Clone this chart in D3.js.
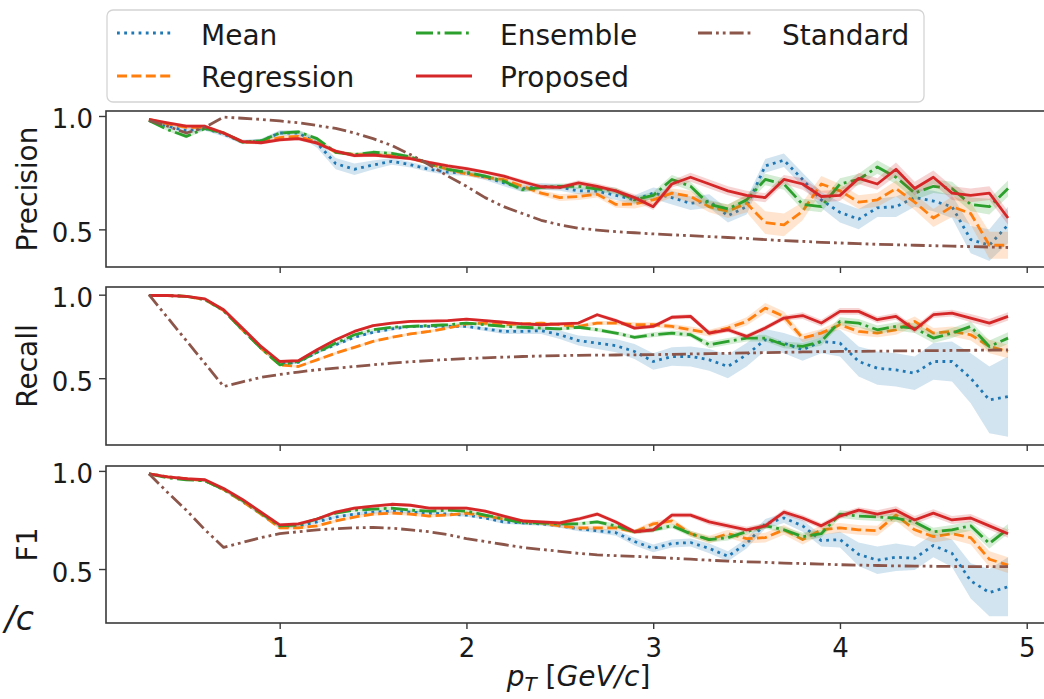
<!DOCTYPE html>
<html><head><meta charset="utf-8">
<script src="https://cdn.jsdelivr.net/npm/d3@7"></script>
<style>body{margin:0;background:#fff;} svg{display:block;font-family:"DejaVu Sans";}</style>
</head><body><svg id="chart" width="1044" height="699"></svg>
<script>
// ---------- data ----------
const pT = [0.3,0.4,0.5,0.6,0.7,0.8,0.9,
  1.0,1.1,1.2,1.3,1.4,1.5,1.6,1.7,1.8,1.9,
  2.0,2.1,2.2,2.3,2.4,2.5,2.6,2.7,2.8,2.9,
  3.0,3.1,3.2,3.3,3.4,3.5,3.6,3.7,3.8,3.9,
  4.0,4.1,4.2,4.3,4.4,4.5,4.6,4.7,4.8,4.9];

const seriesNames = ["Mean","Regression","Ensemble","Proposed","Standard"];
const xTicks = [1,2,3,4,5];
const yTicks = [0.5,1.0];

// Precision
const precisionMean = [0.98,0.955,0.935,0.945,0.92,0.885,0.89,
  0.925,0.925,0.88,0.79,0.765,0.784,0.8,0.785,0.765,0.752,
  0.748,0.73,0.705,0.68,0.69,0.685,0.67,0.668,0.65,0.63,
  0.66,0.64,0.615,0.625,0.56,0.6,0.78,0.805,0.72,0.63,
  0.575,0.545,0.595,0.6,0.64,0.625,0.6,0.455,0.43,0.52];
const precisionRegression = [0.985,0.965,0.95,0.95,0.925,0.885,0.885,
  0.905,0.91,0.885,0.84,0.83,0.83,0.825,0.815,0.79,0.765,
  0.745,0.73,0.72,0.69,0.66,0.64,0.645,0.655,0.61,0.612,
  0.63,0.66,0.645,0.6,0.58,0.615,0.53,0.52,0.58,0.7,
  0.67,0.62,0.63,0.68,0.62,0.55,0.6,0.57,0.43,0.43];
const precisionEnsemble = [0.98,0.94,0.91,0.945,0.925,0.885,0.89,
  0.925,0.93,0.9,0.84,0.83,0.84,0.835,0.82,0.79,0.765,
  0.752,0.735,0.712,0.675,0.685,0.69,0.69,0.678,0.67,0.63,
  0.65,0.72,0.69,0.61,0.59,0.63,0.72,0.7,0.61,0.6,
  0.7,0.72,0.775,0.73,0.66,0.69,0.68,0.61,0.6,0.68];
const precisionProposed = [0.985,0.97,0.955,0.955,0.925,0.887,0.882,
  0.895,0.9,0.88,0.845,0.825,0.828,0.82,0.812,0.795,0.78,
  0.768,0.752,0.735,0.71,0.688,0.685,0.705,0.69,0.67,0.64,
  0.6,0.7,0.73,0.7,0.67,0.65,0.64,0.72,0.7,0.645,
  0.65,0.725,0.7,0.765,0.68,0.73,0.66,0.65,0.66,0.55];
const precisionStandard = [0.98,0.955,0.925,0.95,0.995,0.99,0.985,
  0.978,0.97,0.958,0.945,0.925,0.9,0.87,0.83,0.785,0.735,
  0.69,0.64,0.6,0.57,0.54,0.52,0.505,0.497,0.49,0.485,
  0.48,0.476,0.472,0.468,0.464,0.46,0.455,0.45,0.447,0.443,
  0.44,0.437,0.434,0.432,0.43,0.428,0.426,0.424,0.422,0.42];

const precisionMeanStd = [0.008,0.01,0.012,0.01,0.01,0.01,0.01,
  0.012,0.012,0.02,0.025,0.025,0.02,0.015,0.012,0.012,0.012,
  0.012,0.012,0.015,0.015,0.015,0.015,0.015,0.02,0.02,0.02,
  0.025,0.03,0.03,0.03,0.03,0.035,0.03,0.03,0.03,0.035,
  0.045,0.045,0.04,0.045,0.04,0.045,0.05,0.06,0.07,0.08];
const precisionRegressionStd = [0.006,0.006,0.008,0.008,0.008,0.008,0.008,
  0.008,0.008,0.008,0.008,0.008,0.008,0.008,0.008,0.008,0.01,
  0.01,0.01,0.01,0.012,0.012,0.015,0.015,0.015,0.015,0.02,
  0.02,0.02,0.025,0.025,0.03,0.04,0.05,0.05,0.04,0.035,
  0.03,0.03,0.03,0.035,0.035,0.04,0.045,0.05,0.06,0.06];
const precisionEnsembleStd = [0.006,0.006,0.008,0.008,0.008,0.008,0.008,
  0.008,0.008,0.008,0.008,0.008,0.008,0.008,0.008,0.008,0.008,
  0.008,0.008,0.01,0.01,0.01,0.012,0.012,0.012,0.015,0.015,
  0.015,0.02,0.02,0.02,0.02,0.02,0.025,0.025,0.025,0.025,
  0.025,0.025,0.03,0.03,0.03,0.03,0.03,0.03,0.035,0.035];
const precisionProposedStd = [0.006,0.006,0.008,0.008,0.008,0.008,0.008,
  0.008,0.008,0.008,0.008,0.008,0.008,0.008,0.008,0.008,0.008,
  0.008,0.008,0.008,0.01,0.01,0.01,0.012,0.012,0.012,0.015,
  0.015,0.015,0.02,0.02,0.02,0.02,0.02,0.02,0.025,0.025,
  0.025,0.025,0.025,0.03,0.03,0.03,0.03,0.03,0.03,0.03];

// Recall
const recallMean = [0.995,0.995,0.99,0.97,0.905,0.79,0.68,
  0.585,0.595,0.655,0.7,0.745,0.775,0.795,0.81,0.81,0.81,
  0.81,0.795,0.78,0.78,0.785,0.76,0.725,0.71,0.695,0.66,
  0.6,0.63,0.63,0.61,0.57,0.64,0.73,0.71,0.67,0.72,
  0.71,0.6,0.56,0.55,0.53,0.6,0.6,0.5,0.37,0.39];
const recallRegression = [0.995,0.995,0.99,0.97,0.905,0.79,0.68,
  0.58,0.57,0.61,0.65,0.685,0.72,0.745,0.765,0.78,0.8,
  0.825,0.83,0.82,0.825,0.83,0.82,0.81,0.83,0.83,0.82,
  0.82,0.81,0.79,0.77,0.8,0.84,0.92,0.87,0.74,0.77,
  0.82,0.78,0.77,0.79,0.84,0.77,0.78,0.76,0.69,0.66];
const recallEnsemble = [0.995,0.995,0.99,0.972,0.905,0.79,0.68,
  0.58,0.6,0.655,0.71,0.76,0.79,0.805,0.81,0.815,0.82,
  0.83,0.82,0.81,0.805,0.8,0.795,0.805,0.79,0.77,0.745,
  0.76,0.77,0.76,0.7,0.72,0.74,0.74,0.7,0.69,0.72,
  0.84,0.83,0.79,0.81,0.8,0.74,0.77,0.81,0.69,0.74];
const recallProposed = [0.995,0.995,0.99,0.975,0.91,0.8,0.69,
  0.6,0.605,0.67,0.73,0.78,0.815,0.83,0.84,0.842,0.845,
  0.854,0.845,0.835,0.825,0.82,0.825,0.83,0.88,0.845,0.8,
  0.81,0.865,0.87,0.77,0.79,0.75,0.8,0.86,0.875,0.83,
  0.9,0.9,0.85,0.87,0.79,0.88,0.89,0.86,0.83,0.87];
const recallStandard = [1.0,0.862,0.725,0.588,0.45,0.478,0.505,
  0.522,0.537,0.55,0.56,0.57,0.58,0.59,0.598,0.605,0.612,
  0.617,0.622,0.626,0.63,0.633,0.635,0.637,0.638,0.639,0.64,
  0.641,0.643,0.645,0.647,0.649,0.651,0.653,0.655,0.657,0.659,
  0.66,0.661,0.662,0.663,0.664,0.665,0.666,0.667,0.668,0.669];

const recallMeanStd = [0.004,0.004,0.005,0.006,0.008,0.008,0.008,
  0.008,0.008,0.008,0.008,0.008,0.008,0.01,0.01,0.01,0.01,
  0.01,0.012,0.015,0.015,0.02,0.025,0.03,0.035,0.04,0.045,
  0.05,0.055,0.06,0.065,0.07,0.07,0.065,0.06,0.065,0.07,
  0.08,0.09,0.1,0.1,0.1,0.11,0.12,0.15,0.2,0.24];
const recallRegressionStd = [0.004,0.004,0.005,0.006,0.008,0.008,0.008,
  0.008,0.008,0.008,0.008,0.008,0.008,0.008,0.008,0.008,0.008,
  0.008,0.008,0.01,0.01,0.01,0.01,0.012,0.012,0.012,0.015,
  0.015,0.015,0.02,0.02,0.02,0.025,0.03,0.03,0.025,0.025,
  0.025,0.025,0.025,0.03,0.03,0.03,0.03,0.035,0.04,0.04];
const recallEnsembleStd = [0.004,0.004,0.005,0.006,0.008,0.008,0.008,
  0.008,0.008,0.008,0.008,0.008,0.008,0.008,0.008,0.008,0.008,
  0.008,0.008,0.008,0.01,0.01,0.01,0.01,0.012,0.012,0.012,
  0.015,0.015,0.015,0.02,0.02,0.02,0.02,0.02,0.02,0.025,
  0.025,0.025,0.025,0.025,0.03,0.03,0.03,0.03,0.035,0.035];
const recallProposedStd = [0.004,0.004,0.005,0.006,0.008,0.008,0.008,
  0.008,0.008,0.008,0.008,0.008,0.008,0.008,0.008,0.008,0.008,
  0.008,0.008,0.008,0.008,0.01,0.01,0.01,0.01,0.012,0.012,
  0.012,0.012,0.015,0.015,0.015,0.015,0.015,0.015,0.02,0.02,
  0.02,0.02,0.02,0.02,0.02,0.02,0.02,0.025,0.025,0.025];

// F1
const f1Mean = [0.985,0.97,0.96,0.95,0.905,0.845,0.78,
  0.715,0.72,0.74,0.765,0.78,0.79,0.795,0.79,0.785,0.78,
  0.775,0.76,0.74,0.735,0.73,0.72,0.705,0.695,0.685,0.64,
  0.605,0.63,0.635,0.605,0.565,0.63,0.73,0.76,0.72,0.645,
  0.65,0.575,0.545,0.56,0.555,0.62,0.58,0.44,0.38,0.41];
const f1Regression = [0.985,0.97,0.96,0.95,0.905,0.845,0.78,
  0.71,0.71,0.72,0.745,0.765,0.78,0.785,0.78,0.77,0.775,
  0.785,0.77,0.755,0.745,0.735,0.72,0.71,0.71,0.71,0.69,
  0.73,0.745,0.68,0.65,0.68,0.655,0.66,0.7,0.65,0.7,
  0.71,0.7,0.695,0.775,0.7,0.665,0.68,0.66,0.55,0.52];
const f1Ensemble = [0.985,0.965,0.955,0.95,0.905,0.85,0.785,
  0.72,0.725,0.755,0.785,0.8,0.805,0.81,0.8,0.795,0.8,
  0.795,0.775,0.755,0.735,0.735,0.73,0.73,0.74,0.72,0.69,
  0.7,0.72,0.68,0.65,0.66,0.69,0.72,0.7,0.665,0.68,
  0.78,0.77,0.765,0.76,0.74,0.69,0.7,0.72,0.63,0.705];
const f1Proposed = [0.985,0.97,0.96,0.955,0.91,0.855,0.79,
  0.725,0.73,0.755,0.79,0.81,0.82,0.83,0.825,0.81,0.81,
  0.81,0.795,0.77,0.745,0.74,0.735,0.755,0.78,0.74,0.69,
  0.7,0.775,0.775,0.74,0.72,0.7,0.72,0.79,0.76,0.72,
  0.77,0.8,0.78,0.8,0.75,0.785,0.75,0.76,0.72,0.68];
const f1Standard = [0.985,0.89,0.8,0.7,0.61,0.635,0.66,
  0.68,0.69,0.7,0.705,0.71,0.712,0.708,0.7,0.69,0.675,
  0.655,0.64,0.625,0.61,0.6,0.59,0.58,0.572,0.568,0.565,
  0.56,0.555,0.55,0.545,0.54,0.537,0.534,0.53,0.528,0.525,
  0.522,0.52,0.518,0.516,0.515,0.514,0.513,0.512,0.512,0.512];

const f1MeanStd = [0.004,0.004,0.005,0.006,0.008,0.008,0.008,
  0.008,0.008,0.008,0.008,0.008,0.008,0.008,0.008,0.008,0.008,
  0.008,0.008,0.01,0.01,0.01,0.01,0.012,0.012,0.015,0.02,
  0.02,0.02,0.02,0.025,0.025,0.025,0.025,0.025,0.03,0.03,
  0.04,0.06,0.07,0.07,0.06,0.06,0.07,0.09,0.12,0.15];
const f1RegressionStd = [0.004,0.004,0.005,0.006,0.008,0.008,0.008,
  0.008,0.008,0.008,0.008,0.008,0.008,0.008,0.008,0.008,0.008,
  0.008,0.008,0.008,0.01,0.01,0.01,0.01,0.012,0.012,0.012,
  0.015,0.015,0.015,0.02,0.02,0.025,0.025,0.025,0.025,0.025,
  0.025,0.025,0.025,0.03,0.03,0.03,0.03,0.035,0.04,0.04];
const f1EnsembleStd = [0.004,0.004,0.005,0.006,0.008,0.008,0.008,
  0.008,0.008,0.008,0.008,0.008,0.008,0.008,0.008,0.008,0.008,
  0.008,0.008,0.008,0.008,0.01,0.01,0.01,0.01,0.012,0.012,
  0.012,0.012,0.015,0.015,0.015,0.015,0.015,0.015,0.02,0.02,
  0.02,0.02,0.02,0.02,0.02,0.02,0.025,0.025,0.025,0.025];
const f1ProposedStd = [0.004,0.004,0.005,0.006,0.008,0.008,0.008,
  0.008,0.008,0.008,0.008,0.008,0.008,0.008,0.008,0.008,0.008,
  0.008,0.008,0.008,0.008,0.008,0.01,0.01,0.01,0.01,0.012,
  0.012,0.012,0.012,0.015,0.015,0.015,0.015,0.015,0.015,0.015,
  0.015,0.015,0.02,0.02,0.02,0.02,0.02,0.02,0.02,0.02];

// ---------- drawing ----------
const svg = d3.select("#chart");
const plotLeft = 106, plotRight = 1051;
const x = d3.scaleLinear().domain([0.07, 5.13]).range([plotLeft, plotRight]);

const colors = {Mean:"#1f77b4", Regression:"#ff7f0e", Ensemble:"#2ca02c", Proposed:"#d62728", Standard:"#8c564b"};
const dashes = {Mean:"2.8,4.4", Regression:"10,4.4", Ensemble:"17,4.4,2.8,4.4", Proposed:null, Standard:"14,4,2.8,4,2.8,4"};
const lw = 2.8;

const panels = [
  {label:"Precision", top:111, bottom:267, domain:[0.334,1.022],
   values:{Mean:precisionMean, Regression:precisionRegression, Ensemble:precisionEnsemble, Proposed:precisionProposed, Standard:precisionStandard},
   std:{Mean:precisionMeanStd, Regression:precisionRegressionStd, Ensemble:precisionEnsembleStd, Proposed:precisionProposedStd}},
  {label:"Recall", top:287, bottom:445, domain:[0.1,1.046],
   values:{Mean:recallMean, Regression:recallRegression, Ensemble:recallEnsemble, Proposed:recallProposed, Standard:recallStandard},
   std:{Mean:recallMeanStd, Regression:recallRegressionStd, Ensemble:recallEnsembleStd, Proposed:recallProposedStd}},
  {label:"F1", top:466, bottom:623, domain:[0.225,1.025],
   values:{Mean:f1Mean, Regression:f1Regression, Ensemble:f1Ensemble, Proposed:f1Proposed, Standard:f1Standard},
   std:{Mean:f1MeanStd, Regression:f1RegressionStd, Ensemble:f1EnsembleStd, Proposed:f1ProposedStd}}
];

const defs = svg.append("defs");

panels.forEach((p, i) => {
  const y = d3.scaleLinear().domain(p.domain).range([p.bottom, p.top]);
  const clipId = "clip" + i;
  defs.append("clipPath").attr("id", clipId).append("rect")
    .attr("x", plotLeft).attr("y", p.top).attr("width", plotRight - plotLeft).attr("height", p.bottom - p.top);
  const g = svg.append("g").attr("clip-path", `url(#${clipId})`);

  seriesNames.forEach(name => {
    const vals = p.values[name];
    const sd = p.std[name];
    if (sd) {
      const area = d3.area()
        .x((d, j) => x(pT[j]))
        .y0((d, j) => y(d - sd[j]))
        .y1((d, j) => y(d + sd[j]));
      g.append("path").datum(vals).attr("d", area)
        .attr("fill", colors[name]).attr("fill-opacity", 0.2).attr("stroke", "none");
    }
    const line = d3.line().x((d, j) => x(pT[j])).y(d => y(d));
    g.append("path").datum(vals).attr("d", line)
      .attr("fill", "none").attr("stroke", colors[name]).attr("stroke-width", lw)
      .attr("stroke-dasharray", dashes[name]).attr("stroke-linejoin", "round");
  });

  // frame
  svg.append("rect").attr("x", plotLeft).attr("y", p.top)
    .attr("width", plotRight - plotLeft).attr("height", p.bottom - p.top)
    .attr("fill", "none").attr("stroke", "#3a3a3a").attr("stroke-width", 1.6);

  // y axis
  const yAxis = d3.axisLeft(y).tickValues(yTicks).tickFormat(d3.format(".1f")).tickSize(7).tickPadding(6);
  const ya = svg.append("g").attr("transform", `translate(${plotLeft},0)`).call(yAxis);
  ya.select(".domain").remove();
  ya.selectAll(".tick line").attr("stroke", "#3a3a3a").attr("stroke-width", 1.4);
  ya.selectAll(".tick text").attr("font-size", 26).attr("font-family", "DejaVu Sans").attr("fill", "#1a1a1a").attr("dy", "0.46em");

  // x axis
  const xAxis = d3.axisBottom(x).tickValues(xTicks).tickFormat(i === 2 ? d3.format("d") : () => "").tickSize(6).tickPadding(10);
  const xa = svg.append("g").attr("transform", `translate(0,${p.bottom})`).call(xAxis);
  xa.select(".domain").remove();
  xa.selectAll(".tick line").attr("stroke", "#3a3a3a").attr("stroke-width", 1.4);
  xa.selectAll(".tick text").attr("font-size", 26).attr("font-family", "DejaVu Sans").attr("fill", "#1a1a1a");

  // y label
  svg.append("text")
    .attr("transform", `translate(37,${(p.top + p.bottom) / 2}) rotate(-90)`)
    .attr("text-anchor", "middle").attr("font-size", 28).attr("fill", "#1a1a1a")
    .text(p.label);
});

// x label
const xl = svg.append("text").attr("x", (plotLeft + plotRight) / 2).attr("y", 686)
  .attr("text-anchor", "middle").attr("font-size", 28).attr("fill", "#1a1a1a");
xl.append("tspan").attr("font-style", "italic").text("p");
xl.append("tspan").attr("font-style", "italic").attr("font-size", 20).attr("dy", 5).text("T");
xl.append("tspan").attr("dy", -5).text(" [");
xl.append("tspan").attr("font-style", "italic").text("GeV/c");
xl.append("tspan").text("]");

// stray clipped label fragment at left
svg.append("text").attr("x", 34).attr("y", 630).attr("text-anchor", "end")
  .attr("font-size", 33).attr("font-style", "italic").attr("fill", "#1a1a1a").text("/c");

// legend
const lg = svg.append("g");
lg.append("rect").attr("x", 107).attr("y", 10).attr("width", 817).attr("height", 92)
  .attr("rx", 6).attr("fill", "#fff").attr("fill-opacity", 0.8).attr("stroke", "#d4d4d4").attr("stroke-width", 1.3);
const legendPos = {
  Mean:{hx:117, tx:201, y:33, ty:45},
  Regression:{hx:117, tx:201, y:76, ty:87},
  Ensemble:{hx:416, tx:500, y:33, ty:45},
  Proposed:{hx:416, tx:500, y:76, ty:87},
  Standard:{hx:698, tx:782, y:33, ty:45}
};
seriesNames.forEach(name => {
  const lp = legendPos[name];
  lg.append("line").attr("x1", lp.hx).attr("x2", lp.hx + 56).attr("y1", lp.y).attr("y2", lp.y)
    .attr("stroke", colors[name]).attr("stroke-width", lw).attr("stroke-dasharray", dashes[name]);
  lg.append("text").attr("x", lp.tx).attr("y", lp.ty).attr("font-size", 28).attr("fill", "#1a1a1a").text(name);
});
</script>
</body></html>
